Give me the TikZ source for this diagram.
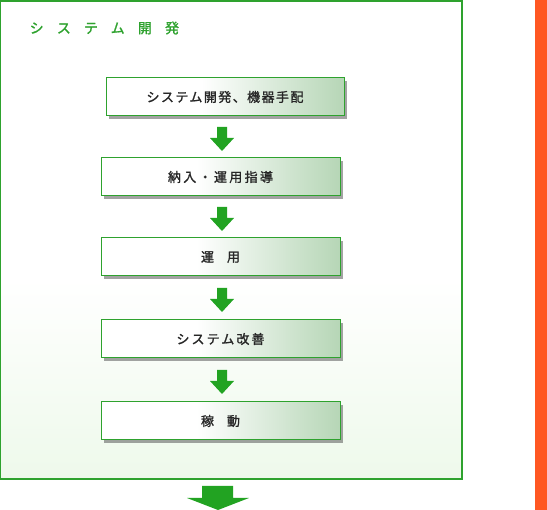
\documentclass[tikz,border=0pt]{standalone}
\usepackage{fontspec}
\newfontfamily\jp{Noto Sans CJK JP}
\usetikzlibrary{shadows,calc}
\definecolor{frameg}{HTML}{2EA22E}
\definecolor{arrowg}{HTML}{22A322}
\definecolor{titleg}{HTML}{2EA22E}
\definecolor{boxg}{HTML}{B6D6B6}
\definecolor{bgg}{HTML}{EEF9EB}
\definecolor{orangebar}{HTML}{FF5722}
\definecolor{txt}{HTML}{262626}
\pgfdeclarehorizontalshading{boxshade}{100bp}{color(0bp)=(white); color(25bp)=(white); color(45bp)=(white); color(75bp)=(boxg); color(100bp)=(boxg)}
\pgfdeclareverticalshading{frameshade}{100bp}{color(0bp)=(bgg); color(25bp)=(bgg); color(46bp)=(white); color(100bp)=(white)}
\tikzset{
  stepbox/.style={draw=frameg, line width=1pt, shading=boxshade, minimum height=38pt, inner sep=0pt,
    minimum width=239pt, text=txt,
    drop shadow={shadow xshift=3pt, shadow yshift=-3pt, opacity=0.6, fill=black!60}},
  boxfont/.style={font=\jp\fontsize{13pt}{15pt}\selectfont\addfontfeature{FakeBold=1.4,LetterSpace=#1}},
  blockarrow/.pic={\fill[arrowg] (-5,0) -- (5,0) -- (5,11) -- (12,11) -- (0,24) -- (-12,11) -- (-5,11) -- cycle;}
}
\begin{document}
\begin{tikzpicture}[x=1pt,y=-1pt]
\useasboundingbox (0,0) rectangle (547,510);
% orange bar
\fill[orangebar] (535,0) rectangle (547,510);
% frame
\shade[shading=frameshade] (0.75,1) rectangle (462,479);
\draw[frameg, line width=1.1pt] (0.75,1) rectangle (462,479);
\node[anchor=west, text=titleg, font=\jp\fontsize{14pt}{16pt}\selectfont\addfontfeature{FakeBold=1.2,LetterSpace=94}, inner sep=0pt] (title) at (29.5,28) {システム開発};
% boxes
\node[stepbox, boxfont=11, minimum width=238pt] (b1) at (225,97) {システム開発、機器手配};
\node[stepbox, boxfont=18] (b2) at (220.5,177) {納入・運用指導};
\node[stepbox, boxfont=0] (b3) at (220.5,257) {運　用};
\node[stepbox, boxfont=16] (b4) at (220.5,339) {システム改善};
\node[stepbox, boxfont=0] (b5) at (220.5,421) {稼　動};
% arrows
\pic at (222,127) {blockarrow};
\pic at (222,207) {blockarrow};
\pic at (222,288) {blockarrow};
\pic at (222,370) {blockarrow};
% bottom arrow
\fill[arrowg] (202,486) -- (233,486) -- (233,498) -- (249,498) -- (218,510) -- (187,498) -- (202,498) -- cycle;
\end{tikzpicture}
\end{document}
